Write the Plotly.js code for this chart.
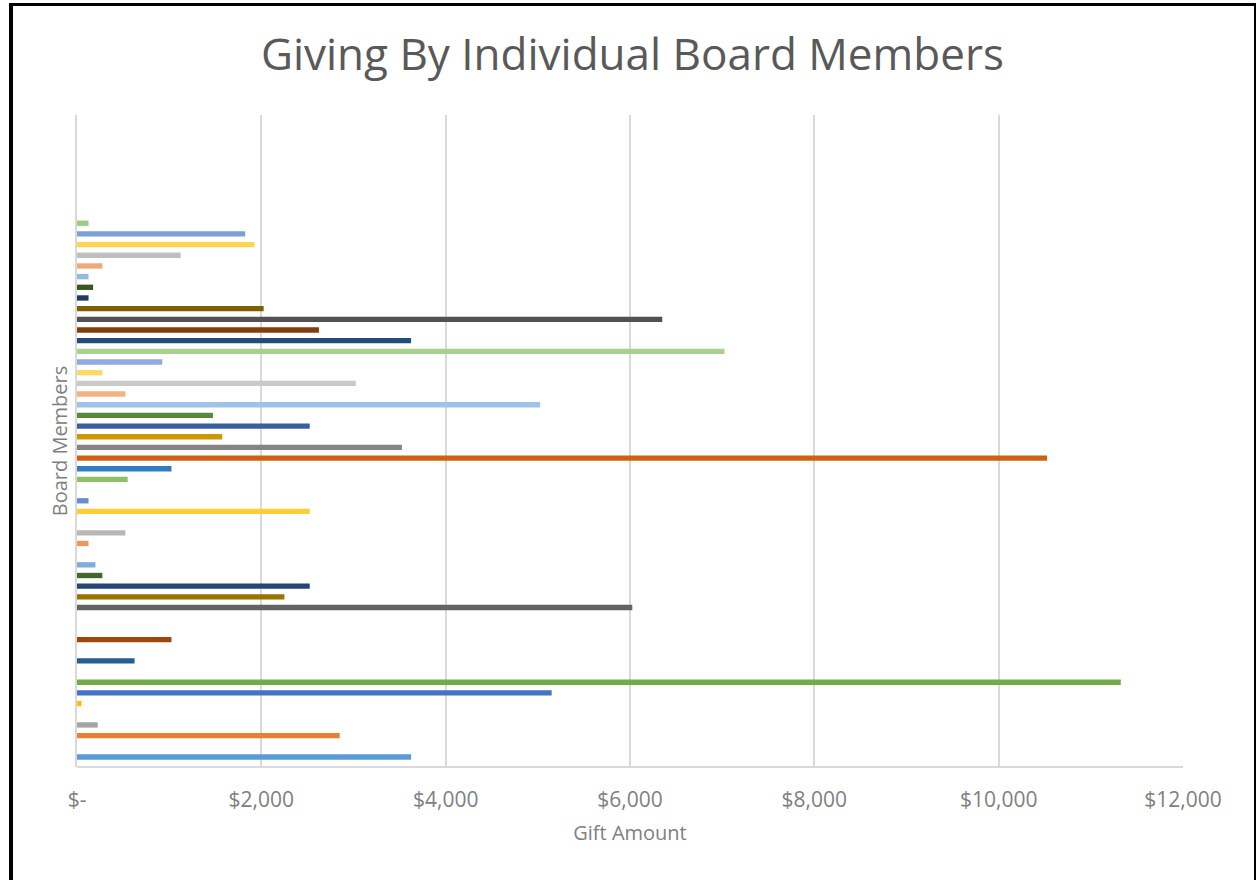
<!DOCTYPE html>
<html>
<head>
<meta charset="utf-8">
<script src="https://cdn.plot.ly/plotly-3.0.1.min.js"></script>
<style>
  html, body { margin: 0; padding: 0; background: #ffffff; }
  #chart { position: absolute; left: 0; top: 0; width: 1256px; height: 880px; }
  #frame { position: absolute; left: 9px; top: 3px; width: 1241px; height: 900px;
           border-left: 4px solid #000; border-top: 3px solid #000; border-right: 2px solid #000;
           pointer-events: none; }
</style>
</head>
<body>
<div id="chart"></div>
<div id="frame"></div>
<script>
// Board members, listed from the bottom of the chart upward (no names are shown on the chart)
const members = [
  "Member 1","Member 2","Member 3","Member 4","Member 5","Member 6","Member 7","Member 8",
  "Member 9","Member 10","Member 11","Member 12","Member 13","Member 14","Member 15","Member 16",
  "Member 17","Member 18","Member 19","Member 20","Member 21","Member 22","Member 23","Member 24",
  "Member 25","Member 26","Member 27","Member 28","Member 29","Member 30","Member 31","Member 32",
  "Member 33","Member 34","Member 35","Member 36","Member 37","Member 38","Member 39","Member 40",
  "Member 41","Member 42","Member 43","Member 44","Member 45","Member 46","Member 47","Member 48",
  "Member 49","Member 50","Member 51","Member 52","Member 53","Member 54","Member 55","Member 56",
  "Member 57","Member 58","Member 59","Member 60","Member 61"
];

// Gift amounts (USD); null = no gift shown
const giftAmounts = [
  3625, null, 2850, 225, null, 50, 5150, 11325,
  null, 625, null, 1025, null, null, 6025, 2250,
  2525, 275, 200, null, 125, 525, null, 2525,
  125, null, 550, 1025, 10525, 3525, 1575, 2525,
  1475, 5025, 525, 3025, 275, 925, 7025, 3625,
  2625, 6350, 2025, 125, 175, 125, 275, 1125,
  1925, 1825, 125, null, null, null, null, null,
  null, null, null, null, null
];

// Bar colours (one per member)
const barColors = [
  "#5B9BD5", "#cccccc", "#ED7D31", "#A5A5A5", "#cccccc", "#FFC000", "#4472C4", "#70AD47",
  "#cccccc", "#255E91", "#cccccc", "#9E480E", "#cccccc", "#cccccc", "#636363", "#997300",
  "#264478", "#43682B", "#7CAFDD", "#cccccc", "#F1975A", "#B7B7B7", "#cccccc", "#FFCD33",
  "#698ED0", "#cccccc", "#8CC168", "#327DC2", "#D26012", "#848484", "#CC9A00", "#3A5FA0",
  "#5A8A39", "#9DC3E6", "#F4B183", "#C9C9C9", "#FFD966", "#8FAADC", "#A9D18E", "#1F4E79",
  "#843C0C", "#525252", "#7F6000", "#203864", "#385723", "#8DBCE6", "#F3A878", "#BFBFBF",
  "#FFD44F", "#7C9FD8", "#9DCB80", "#cccccc", "#cccccc", "#cccccc", "#cccccc", "#cccccc",
  "#cccccc", "#cccccc", "#cccccc", "#cccccc", "#cccccc"
];

// X-axis ticks
const tickValues = [0, 2000, 4000, 6000, 8000, 10000, 12000];
const tickLabels = ["$-", "$2,000", "$4,000", "$6,000", "$8,000", "$10,000", "$12,000"];

const trace = {
  type: "bar",
  orientation: "h",
  x: giftAmounts,
  y: members,
  width: 0.5,
  marker: { color: barColors, line: { width: 0 } },
  hoverinfo: "x+y"
};

const layout = {
  width: 1256,
  height: 880,
  paper_bgcolor: "#ffffff",
  plot_bgcolor: "#ffffff",
  margin: { l: 77, r: 73, t: 115, b: 113 },
  showlegend: false,
  font: { family: "Open Sans, sans-serif", color: "#7f7f7f" },
  title: {
    text: "Giving By Individual Board Members",
    font: { family: "Open Sans, sans-serif", size: 44, color: "#595959" },
    x: 0.5035, xanchor: "center",
    y: 0.938, yanchor: "middle"
  },
  xaxis: {
    range: [0, 12000],
    tickvals: tickValues,
    ticktext: tickLabels,
    tickfont: { size: 21, color: "#808080" },
    ticks: "",
    ticklabelstandoff: 18,
    showgrid: true,
    gridcolor: "#d9d9d9",
    gridwidth: 2,
    zeroline: false,
    showline: false,
    title: { text: "Gift Amount", font: { size: 20, color: "#808080" }, standoff: 13 }
  },
  yaxis: {
    type: "category",
    categoryorder: "array",
    categoryarray: members,
    range: [-0.94, 60.14],
    showticklabels: false,
    ticks: "",
    showgrid: false,
    zeroline: false,
    showline: true,
    linecolor: "#d9d9d9",
    linewidth: 2,
    title: { text: "Board Members", font: { size: 20, color: "#808080" }, standoff: 2 }
  },
  shapes: [
    { type: "line", xref: "paper", yref: "paper", x0: 0, x1: 1, y0: 0, y1: 0,
      line: { color: "#d9d9d9", width: 2 } }
  ]
};

Plotly.newPlot("chart", [trace], layout, { displayModeBar: false, staticPlot: true });
</script>
</body>
</html>
